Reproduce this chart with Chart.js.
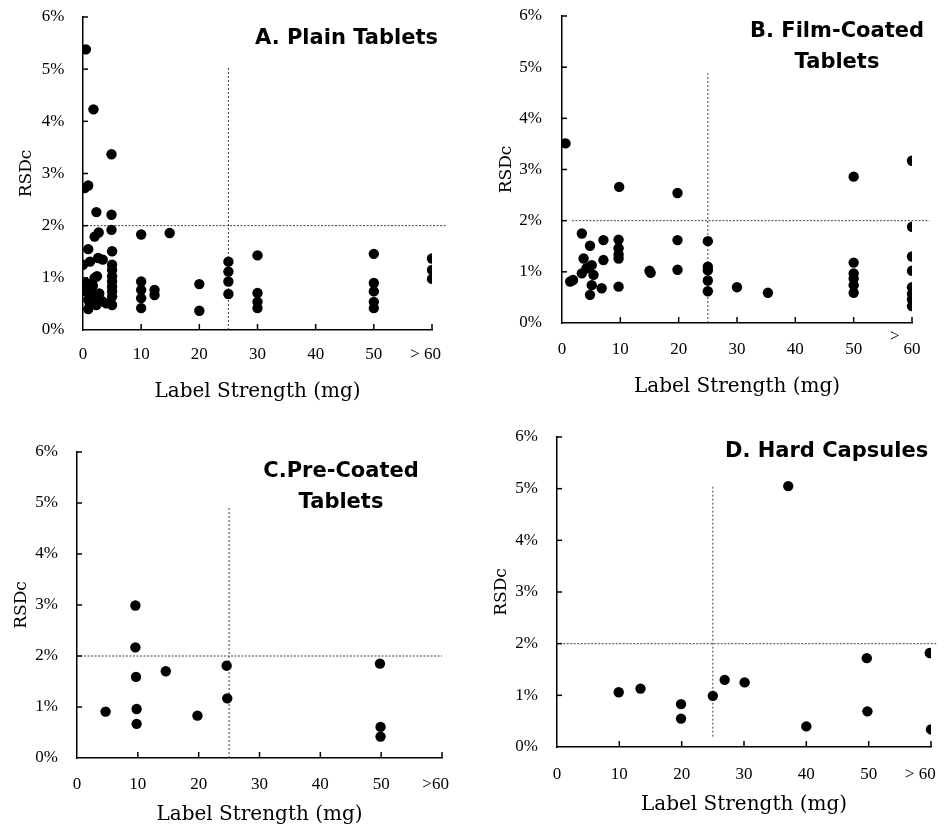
<!DOCTYPE html>
<html><head><meta charset="utf-8">
<script src="https://cdn.jsdelivr.net/npm/chart.js@4.4.1/dist/chart.umd.min.js"></script>
<style>
body{margin:0;background:#fff;width:946px;height:832px;position:relative;overflow:hidden}
.p{position:absolute;width:473px;height:416px}
.t{position:absolute;font-family:"DejaVu Sans";font-weight:bold;font-size:21px;color:#000;white-space:nowrap;line-height:21px}
.t2{line-height:30.5px;text-align:center;width:220px}
.gt{position:absolute;font-family:"Liberation Serif";font-size:17px;line-height:17px;color:#000}
</style></head><body>
<div class="p" style="left:0;top:0"><canvas id="cA" width="473" height="416"></canvas></div>
<div class="p" style="left:473px;top:0"><canvas id="cB" width="473" height="416"></canvas></div>
<div class="p" style="left:0;top:416px"><canvas id="cC" width="473" height="416"></canvas></div>
<div class="p" style="left:473px;top:416px"><canvas id="cD" width="473" height="416"></canvas></div>
<div class="t" style="left:255px;top:27px">A. Plain Tablets</div>
<div class="t t2" style="left:727px;top:15px">B. Film-Coated<br>Tablets</div>
<div class="t t2" style="left:231px;top:455px">C.Pre-Coated<br>Tablets</div>
<div class="t" style="left:725px;top:440px">D. Hard Capsules</div>
<div class="gt" style="left:890px;top:327px">&gt;</div>
<script>
// ---- data ----
const plainX = [0.5,1.8,4.9,0.3,0.9,2.3,4.9,4.9,2.7,2.0,10,14.9,0.9,5,0,1.2,2.6,3.4,5,5,5,5,5,5,5,5,2.4,
  0.3,0.9,0.9,1.5,1.7,2.2,2.3,2.8,3.3,1.2,2.0,0.6,4.0,
  10,10,10,10,12.3,12.3,20,20,25,25,25,25,30,30,30,30,50,50,50,50,50,60,60,60];
const plainY = [5.38,4.23,3.37,2.72,2.77,2.26,2.21,1.92,1.87,1.79,1.83,1.86,1.55,1.51,1.25,1.31,1.38,1.35,1.25,1.15,1.03,0.93,0.83,0.74,0.64,0.48,1.03,
  0.75,0.58,0.40,0.70,0.85,0.62,0.48,0.70,0.55,0.48,1.00,0.90,0.51,
  0.93,0.77,0.61,0.42,0.77,0.67,0.88,0.37,1.31,1.12,0.93,0.69,1.43,0.71,0.54,0.42,1.46,0.90,0.74,0.54,0.42,1.37,1.15,0.98];

const filmX = [0.6,9.8,19.8,50,60,60,3.4,4.8,7.1,9.7,9.7,9.7,9.7,19.8,25,3.7,7.1,5.1,4.2,3.4,1.9,1.4,5.4,5.1,6.8,4.8,9.7,
  15,15.2,19.8,25,25,25,25,30,35.3,50,50,50,50,50,60,60,60,60,60,60];
const filmY = [3.51,2.66,2.54,2.86,3.17,1.88,1.75,1.51,1.62,1.63,1.46,1.34,1.26,1.62,1.60,1.26,1.23,1.13,1.07,0.97,0.84,0.81,0.94,0.74,0.68,0.55,0.71,
  1.02,0.98,1.04,1.10,1.03,0.83,0.62,0.70,0.59,1.18,0.97,0.87,0.74,0.59,1.30,1.02,0.70,0.57,0.46,0.33];

const preX = [4.7,9.6,9.6,9.7,9.8,9.8,14.6,19.8,24.6,24.7,49.8,49.9,49.9];
const preY = [0.91,2.99,2.17,1.59,0.96,0.67,1.70,0.83,1.81,1.17,1.85,0.61,0.42];

const capX = [9.9,13.4,19.9,19.9,25,26.9,30.1,37.1,40,49.7,49.8,59.8,60];
const capY = [1.06,1.13,0.83,0.55,0.99,1.30,1.25,5.05,0.40,1.72,0.69,1.82,0.34];

const xTickValues = [0,10,20,30,40,50,60];
const yTickValues = [0,1,2,3,4,5,6];
const xLabelsA = ['0','10','20','30','40','50','> 60\u2002 '];
const xLabelsB = ['0','10','20','30','40','50','60'];
const xLabelsC = ['0','10','20','30','40','50','>60\u2002 '];
const xLabelsD = ['0','10','20','30','40','50','> 60\u2002\u2002 '];

const limitX = 25;   // mg
const limitY = 2;    // %
// reference line extents [start, end]
const vLineA = [0, 5.05], hLineA = [0, 62.3];
const vLineB = [0, 4.88], hLineB = [1.7, 63];
const vLineC = [0, 4.92], hLineC = [0, 60];
const vLineD = [0.2, 5.05], hLineD = [1, 61];

// ---- drawing ----
const innerTicks = {
  id:'innerTicks',
  afterDatasetsDraw(chart){
    const {ctx, scales:{x,y}} = chart;
    ctx.save(); ctx.strokeStyle='#000'; ctx.lineWidth=1.5;
    xTickValues.forEach(v=>{ if(v===0) return; const px=x.getPixelForValue(v);
      ctx.beginPath(); ctx.moveTo(px, y.bottom); ctx.lineTo(px, y.bottom-6); ctx.stroke(); });
    yTickValues.forEach(v=>{ if(v===0) return; const py=y.getPixelForValue(v);
      ctx.beginPath(); ctx.moveTo(x.left, py); ctx.lineTo(x.left+5, py); ctx.stroke(); });
    ctx.restore();
  }
};

function makeChart(id, xs, ys, xLabels, vLine, hLine, g){
  const pts = xs.map((v,i)=>({x:v, y:ys[i]}));
  new Chart(document.getElementById(id), {
    type:'scatter',
    data:{datasets:[
      {data:pts, backgroundColor:'#000', borderColor:'#000', pointRadius:5.2, pointHoverRadius:5.2, borderWidth:0},
      {type:'line', data:[{x:limitX,y:vLine[0]},{x:limitX,y:vLine[1]}], borderColor:'#444', borderWidth:1,
        borderDash:[2,2], pointRadius:0, showLine:true, fill:false},
      {type:'line', data:[{x:hLine[0],y:limitY},{x:hLine[1],y:limitY}], borderColor:'#444', borderWidth:1,
        borderDash:[2,1.5], pointRadius:0, showLine:true, fill:false, clip:false}
    ]},
    options:{
      responsive:false, animation:false, events:[],
      layout:{padding:{left:0, top:g.top, right:g.right, bottom:0}},
      plugins:{legend:{display:false}, tooltip:{enabled:false}},
      scales:{
        x:{type:'linear', min:0, max:60,
          afterBuildTicks:(s)=>{ s.ticks = xTickValues.map(v=>({value:v})); },
          ticks:{autoSkip:false, maxRotation:0, padding:g.xtp, color:'#000',
            font:{family:'Liberation Serif', size:17},
            callback:(v)=>xLabels[xTickValues.indexOf(v)]},
          grid:{display:false, drawTicks:false},
          border:{display:true, color:'#000', width:1.5},
          title:{display:true, text:'Label Strength (mg)', color:'#000',
            font:{family:'DejaVu Serif', size:20}, padding:{top:0, bottom:g.xtb}},
          afterFit:(s)=>{ s.height=g.xh; s.paddingLeft=0; s.paddingRight=0; }
        },
        y:{type:'linear', min:0, max:6,
          afterBuildTicks:(s)=>{ s.ticks = yTickValues.map(v=>({value:v})); },
          ticks:{padding:g.ytp, color:'#000', font:{family:'Liberation Serif', size:17},
            callback:(v)=>v+'%'},
          grid:{display:false, drawTicks:false},
          border:{display:true, color:'#000', width:1.5},
          title:{display:true, text:'RSDc', color:'#000',
            font:{family:'DejaVu Serif', size:17}, padding:{top:g.yttp, bottom:0}},
          afterFit:(s)=>{ s.width=g.L; s.paddingTop=0; s.paddingBottom=0; }
        }
      }
    },
    plugins:[innerTicks]
  });
}

makeChart('cA', plainX, plainY, xLabelsA, vLineA, hLineA, {L:83, top:17, right:41, xh:86, xtp:14.8, xtb:12, ytp:18.5, yttp:16.8});
makeChart('cB', filmX, filmY, xLabelsB, vLineB, hLineB, {L:89, top:16, right:34, xh:93, xtp:16.8, xtb:17, ytp:20, yttp:23.8});
makeChart('cC', preX, preY, xLabelsC, vLineC, hLineC, {L:77, top:36, right:31, xh:74, xtp:16.8, xtb:5, ytp:19, yttp:11.8});
makeChart('cD', capX, capY, xLabelsD, vLineD, hLineD, {L:84, top:21, right:15, xh:85, xtp:17.8, xtb:15, ytp:19, yttp:18.8});
</script>
</body></html>
